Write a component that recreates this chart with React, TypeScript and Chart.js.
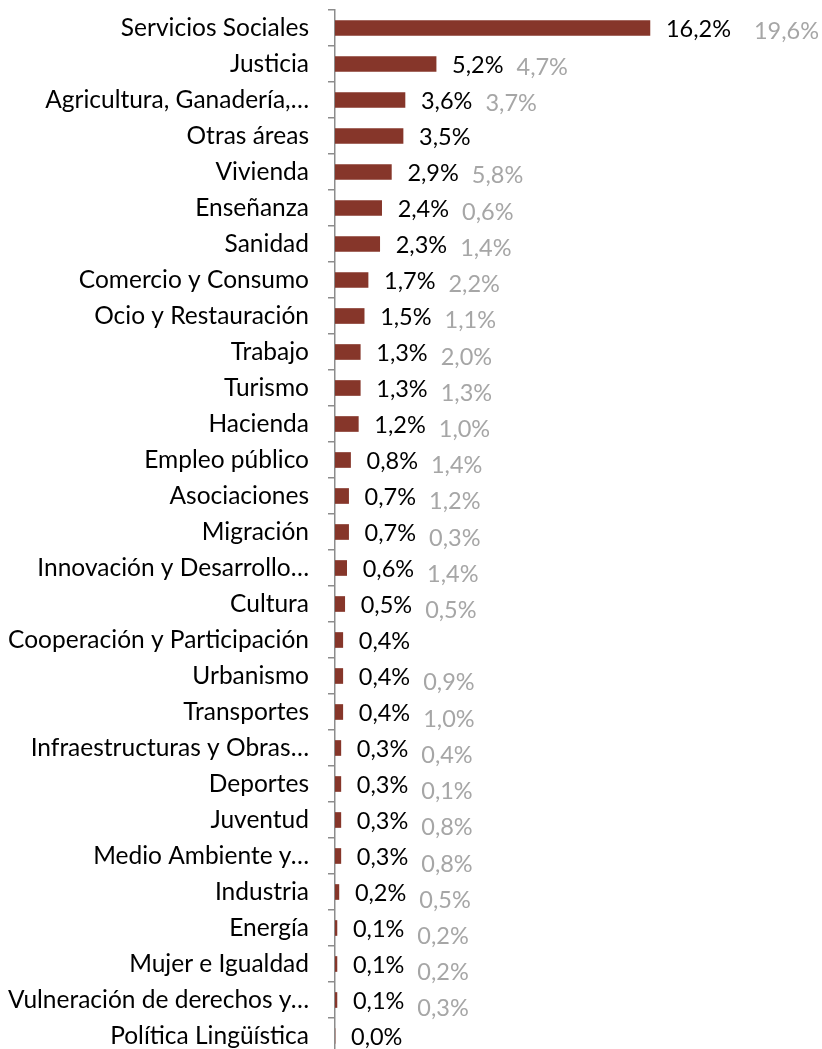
import React, { useEffect, useRef } from "react";
import { Chart, registerables } from "chart.js";

Chart.register(...registerables);

const categories = [
  "Servicios Sociales",
  "Justicia",
  "Agricultura, Ganadería,…",
  "Otras áreas",
  "Vivienda",
  "Enseñanza",
  "Sanidad",
  "Comercio y Consumo",
  "Ocio y Restauración",
  "Trabajo",
  "Turismo",
  "Hacienda",
  "Empleo público",
  "Asociaciones",
  "Migración",
  "Innovación y Desarrollo…",
  "Cultura",
  "Cooperación y Participación",
  "Urbanismo",
  "Transportes",
  "Infraestructuras y Obras…",
  "Deportes",
  "Juventud",
  "Medio Ambiente y…",
  "Industria",
  "Energía",
  "Mujer e Igualdad",
  "Vulneración de derechos y…",
  "Política Lingüística",
];

const currentValues = [
  16.2, 5.2, 3.6, 3.5, 2.9, 2.4, 2.3, 1.7, 1.5, 1.3, 1.3, 1.2, 0.8, 0.7, 0.7,
  0.6, 0.5, 0.4, 0.4, 0.4, 0.3, 0.3, 0.3, 0.3, 0.2, 0.1, 0.1, 0.1, 0.0,
];

const previousValues: (number | null)[] = [
  19.6, 4.7, 3.7, null, 5.8, 0.6, 1.4, 2.2, 1.1, 2.0, 1.3, 1.0, 1.4, 1.2, 0.3,
  1.4, 0.5, null, 0.9, 1.0, 0.4, 0.1, 0.8, 0.8, 0.5, 0.2, 0.2, 0.3, null,
];

const FONT = "Lato, 'Liberation Sans', sans-serif";
const CAT_FONT_SIZE = 24.5;
const VAL_FONT_SIZE = 23.5;

const fmt = (v: number) => v.toFixed(1).replace(".", ",") + "%";

const labelPlugin = {
  id: "valueLabels",
  afterDatasetsDraw(chart: any) {
    const ctx = chart.ctx;
    const meta = chart.getDatasetMeta(0);
    const n = meta.data.length;
    ctx.save();
    ctx.font = `${VAL_FONT_SIZE}px ${FONT}`;
    ctx.textBaseline = "middle";
    ctx.textAlign = "left";
    meta.data.forEach((bar: any, i: number) => {
      const x = bar.x + 16;
      const y = bar.y + 1;
      const txt = fmt(currentValues[i]);
      ctx.fillStyle = "#000000";
      ctx.fillText(txt, x, y);
      const prev = previousValues[i];
      if (prev !== null && prev !== undefined) {
        const w = ctx.measureText(txt).width;
        const extra = i === 0 ? 10 : 0;
        ctx.fillStyle = "#A6A6A6";
        ctx.fillText(fmt(prev), x + w + 13 + extra, y + 2 + (6 * i) / (n - 1));
      }
    });
    ctx.restore();
  },
};

export default function App() {
  const ref = useRef<HTMLCanvasElement | null>(null);

  useEffect(() => {
    if (!ref.current) return;
    const chart = new Chart(ref.current, {
      type: "bar",
      data: {
        labels: categories,
        datasets: [
          {
            data: currentValues,
            backgroundColor: "#86362A",
            borderWidth: 0,
            barThickness: 15,
          },
        ],
      },
      options: {
        indexAxis: "y",
        responsive: false,
        animation: false,
        devicePixelRatio: 1,
        layout: { padding: { top: 10, bottom: 6, left: 0, right: 1 } },
        plugins: {
          legend: { display: false },
          tooltip: { enabled: false },
        },
        scales: {
          x: {
            display: false,
            min: 0,
            max: 25,
          },
          y: {
            afterFit: (scale: any) => {
              scale.width = 335;
              scale.paddingTop = 0;
              scale.paddingBottom = 0;
            },
            border: { display: true, color: "#8C8C8C", width: 1.5 },
            grid: {
              display: true,
              drawOnChartArea: false,
              drawTicks: true,
              tickLength: 7,
              color: "#8C8C8C",
              lineWidth: 1.5,
              offset: true,
            },
            ticks: {
              color: "#000000",
              padding: 19,
              autoSkip: false,
              font: { family: FONT, size: CAT_FONT_SIZE },
            },
          },
        },
      },
      plugins: [labelPlugin],
    });
    return () => chart.destroy();
  }, []);

  return (
    <div
      style={{
        position: "fixed",
        top: 0,
        left: 0,
        width: 822,
        height: 1049,
        overflow: "hidden",
        background: "#ffffff",
      }}
    >
      <canvas ref={ref} width={822} height={1060} style={{ width: 822, height: 1060, display: "block" }} />
    </div>
  );
}
